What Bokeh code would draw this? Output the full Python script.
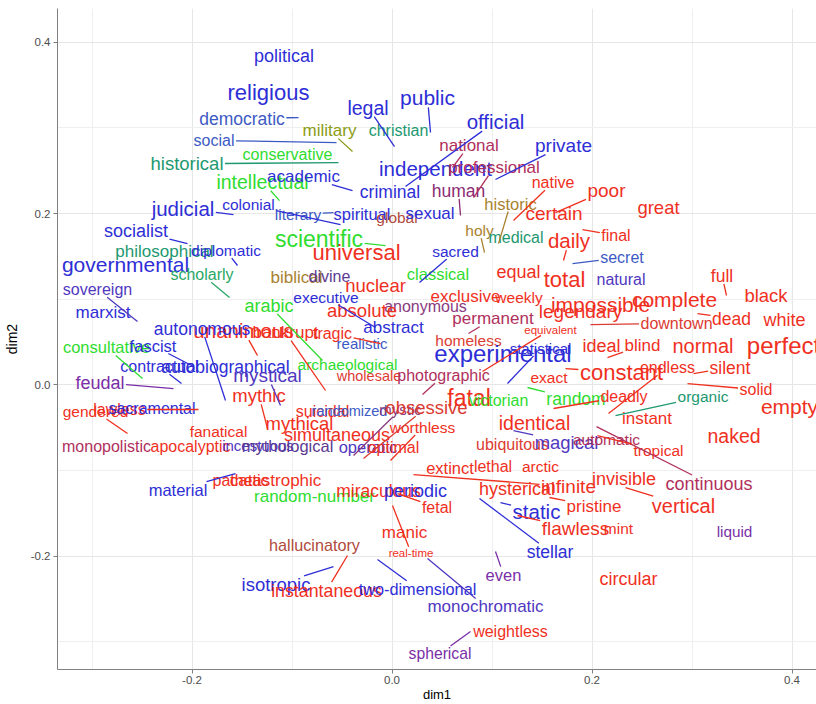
import math
from bokeh.plotting import figure
from bokeh.models import ColumnDataSource, Range1d, FixedTicker, NumeralTickFormatter
from bokeh.core.properties import value
from bokeh.embed import file_html
from bokeh.resources import INLINE

WORDS = ["political", "religious", "public", "legal", "democratic", "military", "christian", "social",
         "official", "conservative", "historical", "intellectual", "academic", "independent", "national",
         "professional", "private", "criminal", "human", "native", "poor", "great", "certain", "historic",
         "judicial", "colonial", "literary", "spiritual", "global", "sexual", "holy", "medical", "daily",
         "final", "secret", "natural", "total", "scientific", "universal", "socialist", "philosophical",
         "diplomatic", "governmental", "scholarly", "biblical", "divine", "sacred", "classical", "equal",
         "nuclear", "arabic", "executive", "exclusive", "weekly", "impossible", "legendary", "complete",
         "full", "black", "dead", "white", "downtown", "equivalent", "permanent", "anonymous", "absolute",
         "abstract", "tragic", "realistic", "homeless", "bankrupt", "unanimous", "autonomous", "sovereign",
         "marxist", "consultative", "fascist", "contractual", "autobiographical", "mystical", "feudal",
         "mythic", "gendered", "lawless", "sacramental", "fanatical", "monopolistic", "apocalyptic",
         "incestuous", "mythological", "mythical", "simultaneous", "suicidal", "randomized", "mystic",
         "obsessive", "worthless", "operatic", "optimal", "wholesale", "archaeological", "photographic",
         "experimental", "statistical", "fatal", "victorian", "random", "exact", "identical", "ubiquitous",
         "magical", "extinct", "lethal", "arctic", "hysterical", "infinite", "pristine", "flawless", "mint",
         "static", "stellar", "invisible", "continuous", "vertical", "tropical", "automatic", "instant",
         "organic", "deadly", "endless", "silent", "solid", "empty", "naked", "perfect", "normal", "blind",
         "ideal", "constant", "material", "pathetic", "catastrophic", "random-number", "miraculous",
         "periodic", "fetal", "manic", "real-time", "hallucinatory", "isotropic", "instantaneous",
         "two-dimensional", "monochromatic", "even", "weightless", "spherical", "circular", "liquid"]

LABEL_X = [-0.108, -0.1235, 0.0355, -0.024, -0.150, -0.0625, 0.0065, -0.178,
           0.1035, -0.1045, -0.205, -0.1295, -0.0885, 0.0435, 0.077,
           0.102, 0.1715, -0.002, 0.0665, 0.161, 0.2145, 0.2665, 0.162, 0.1185,
           -0.209, -0.1435, -0.094, -0.030, 0.005, 0.038, 0.0875, 0.124, 0.177,
           0.224, 0.230, 0.229, 0.1725, -0.073, -0.0355, -0.256, -0.2275,
           -0.166, -0.2665, -0.190, -0.0955, -0.0625, 0.0635, 0.046, 0.1265,
           -0.0165, -0.123, -0.066, 0.0735, 0.127, 0.2085, 0.1885, 0.2825,
           0.330, 0.374, 0.3395, 0.3925, 0.2845, 0.1585, 0.101, 0.0335, -0.030,
           0.0015, -0.0595, -0.030, 0.0765, -0.1065, -0.1485, -0.190, -0.2945,
           -0.289, -0.2855, -0.239, -0.2325, -0.1665, -0.1245, -0.292,
           -0.133, -0.2965, -0.2725, -0.240, -0.1735, -0.2855, -0.2015,
           -0.134, -0.1045, -0.0925, -0.055, -0.0695, -0.0425, 0.0085,
           0.0345, 0.0305, -0.024, 0.0015, -0.023, -0.0445, 0.0515,
           0.111, 0.1485, 0.077, 0.1065, 0.184, 0.157, 0.1425, 0.1205,
           0.1745, 0.058, 0.101, 0.1485, 0.125, 0.1765, 0.202, 0.1835, 0.2265,
           0.1445, 0.158, 0.232, 0.317, 0.2915, 0.2665, 0.2145, 0.255,
           0.311, 0.232, 0.2755, 0.338, 0.364, 0.3975, 0.342, 0.3915, 0.311, 0.2505,
           0.2095, 0.2295, -0.214, -0.1515, -0.1165, -0.0775, -0.0135,
           0.0235, 0.045, 0.0125, 0.019, -0.0775, -0.116, -0.0655,
           0.0255, 0.0935, 0.1115, 0.1185, 0.048, 0.2365, 0.3425]

LABEL_Y = [0.3845, 0.3413, 0.3355, 0.3238, 0.3110, 0.2970, 0.2970, 0.2853,
           0.3075, 0.2689, 0.2581, 0.2374, 0.2433, 0.2526, 0.2794,
           0.2538, 0.2794, 0.2257, 0.2269, 0.2363, 0.2269, 0.2071, 0.2001, 0.2117,
           0.2059, 0.2106, 0.1989, 0.2001, 0.1958, 0.2001, 0.1802, 0.1724, 0.1686,
           0.1744, 0.1487, 0.1230, 0.1230, 0.1709, 0.1545, 0.1802, 0.1557,
           0.1569, 0.1405, 0.1289, 0.1254, 0.1269, 0.1557, 0.1300, 0.1316,
           0.1160, 0.0927, 0.1020, 0.1032, 0.1020, 0.0938, 0.0857, 0.0997,
           0.1277, 0.1044, 0.0775, 0.0763, 0.0717, 0.0647, 0.0775, 0.0915, 0.0868,
           0.0670, 0.0600, 0.0483, 0.0518, 0.0612, 0.0635, 0.0658, 0.1114,
           0.0845, 0.0437, 0.0460, 0.0215, 0.0215, 0.0110, 0.0028,
           -0.0124, -0.0310, -0.0287, -0.0275, -0.0544, -0.0719, -0.0719,
           -0.0707, -0.0707, -0.0451, -0.0579, -0.0310, -0.0310, -0.0287,
           -0.0264, -0.0497, -0.0719, -0.0731, 0.0110, 0.0238, 0.0110,
           0.0367, 0.0425, -0.0147, -0.0182, -0.0170, 0.0086, -0.0439, -0.0696,
           -0.0672, -0.0964, -0.0952, -0.0952, -0.1209, -0.1186, -0.1419, -0.1676, -0.1676,
           -0.1478, -0.1945, -0.1093, -0.1151, -0.1408, -0.0766, -0.0637, -0.0392,
           -0.0135, -0.0135, 0.0203, 0.0203, -0.0054, -0.0252, -0.0591, 0.0460, 0.0460, 0.0460,
           0.0460, 0.0145, -0.1221, -0.1116, -0.1116, -0.1303, -0.1233,
           -0.1233, -0.1431, -0.1723, -0.1956, -0.1863, -0.2330, -0.2400,
           -0.2377, -0.2587, -0.2213, -0.2878, -0.3135, -0.2260, -0.1711]

POINT_X = [None, None, 0.0385, 0.0025, -0.0935, -0.0395, None, -0.0555,
           0.0135, None, -0.0535, -0.1125, -0.0395, None, 0.0605,
           0.0815, 0.1035, None, 0.0685, 0.1215, 0.1635, None, None, 0.1065,
           -0.1585, -0.0515, -0.0585, None, None, None, 0.0925, None, 0.1715,
           0.1905, 0.1805, None, None, -0.0065, None, -0.2045, None,
           -0.1545, None, -0.1625, None, None, 0.0275, None, None,
           None, -0.0695, -0.0165, None, None, None, None, None,
           0.3345, None, 0.3055, None, 0.1985, 0.0905, 0.0765, None, None,
           None, -0.0115, None, None, -0.0665, -0.1345, -0.1665, -0.2545,
           None, -0.2495, -0.1985, -0.2105, None, -0.1115, -0.2185,
           -0.1245, -0.2645, -0.1935, None, None, None, None,
           None, None, None, None, None, None, -0.0385,
           -0.0285, -0.0015, None, None, None, None, 0.0305,
           None, 0.1155, None, None, 0.1355, None, None, None,
           0.1215, None, None, None, None, 0.0215, 0.1575, 0.1255, None,
           0.1085, 0.0875, None, 0.2045, 0.2335, 0.2055, None, None,
           0.2235, 0.1615, 0.2165, 0.3015, 0.2955, None, None, None, None, 0.2155,
           None, 0.1735, -0.1565, None, None, None, None,
           None, 0.0055, None, 0.0005, None, -0.0585, -0.0445,
           -0.0145, 0.0355, 0.1035, None, 0.0785, None, None]

POINT_Y = [None, None, 0.2946, 0.2783, 0.3121, 0.2724, None, 0.2829,
           0.2316, None, 0.2596, 0.2152, 0.2269, None, 0.2538,
           0.2187, 0.2398, None, 0.1977, 0.1919, 0.2012, None, None, 0.1650,
           0.1989, 0.1872, 0.2012, None, None, None, 0.1545, None, 0.1452,
           0.1814, 0.1417, None, None, 0.1627, None, 0.1650, None,
           0.1394, None, 0.1020, None, None, 0.1195, None, None,
           None, 0.0285, 0.0670, None, None, None, None, None,
           0.1044, None, 0.0833, None, 0.0705, 0.0156, 0.0600, None, None,
           None, 0.0483, None, None, -0.0065, 0.0343, -0.0182, 0.0740,
           None, 0.0075, 0.0215, 0.0016, None, -0.0240, -0.0042,
           -0.0509, -0.0567, -0.0287, None, None, None, None,
           None, None, None, None, None, None, -0.0824,
           -0.0859, -0.0882, None, None, None, None, -0.0112,
           None, 0.0016, None, None, -0.0030, None, None, None,
           -0.0532, None, None, None, None, -0.1046, -0.1314, -0.1524, None,
           -0.1373, -0.1326, None, -0.0486, -0.1198, -0.0591, None, None,
           -0.0357, -0.0275, -0.0334, 0.0133, 0.0016, None, None, None, None, 0.0320,
           None, 0.0191, -0.1034, None, None, None, None,
           None, -0.1268, None, -0.1408, None, -0.2120, -0.1991,
           -0.2038, -0.2026, -0.1945, None, -0.2878, None, None]

SIZES = [18, 22, 21, 19.5, 17.5, 17, 16, 16,
         20.5, 16, 18.5, 19.5, 17, 20.5, 17,
         17, 19, 17.5, 17.5, 16, 19, 18.5, 19, 16.5,
         20.5, 15.5, 15.5, 16.5, 15.5, 17, 15.5, 16, 20.5,
         16, 16, 16, 22, 23, 22, 18, 17,
         15.5, 21, 16, 17, 16, 15.5, 16.5, 18,
         18.5, 18, 15.5, 17, 15.5, 21, 19, 21,
         17.5, 18.5, 17.5, 18, 16, 11.5, 17, 16, 18.5,
         17, 16, 15, 15.5, 17, 20.5, 17.5, 16,
         17, 16.5, 16.5, 16, 17.5, 19, 18,
         18.5, 15.5, 16, 16, 15.5, 16, 16,
         15, 16.5, 18.5, 18, 16, 14.5, 15,
         18.5, 15.5, 16.5, 16, 14.5, 15.5, 16,
         24, 15, 23, 16, 17.5, 15.5, 19.5, 16,
         18.5, 16.5, 16, 15.5, 18, 19, 17, 19, 15.5,
         20.5, 17.5, 18, 18, 20, 15.5, 15.5, 17,
         15.5, 16, 16, 17.5, 16, 21, 19.5, 24, 20, 17,
         18, 22, 16.5, 16, 17, 17, 17.5,
         18, 16, 17, 11.5, 16.2, 18.5, 17.8,
         16.3, 17, 16.5, 16, 15.7, 18, 15.3]

PALETTE = {
    "blue": "#2e2ed6", "steel": "#3d5ac4", "indigo": "#5038c0", "purple": "#7a2ea8",
    "dpurple": "#5c3a92", "plum": "#8a3a7e", "magenta": "#8c2c74", "crimson": "#b0305c",
    "red": "#f0301e", "red2": "#dc3c32", "brown": "#b04a3c", "green": "#30dc30",
    "teal": "#1e9870", "tgreen": "#2aa866", "olive": "#8c9c14", "gold": "#aa8230",
}

COLORS = ["blue", "blue", "blue", "blue", "steel", "olive", "teal", "steel",
          "blue", "green", "teal", "green", "blue", "blue", "crimson",
          "crimson", "blue", "blue", "magenta", "red", "red", "red", "red", "gold",
          "blue", "blue", "steel", "blue", "brown", "blue", "gold", "teal", "red",
          "red", "steel", "indigo", "red", "green", "red", "blue", "teal",
          "blue", "blue", "tgreen", "gold", "dpurple", "blue", "green", "red",
          "red", "green", "blue", "red", "red", "red", "red", "red",
          "red", "red", "red", "red", "red2", "red", "crimson", "plum", "red",
          "blue", "red", "steel", "red2", "red", "red", "blue", "indigo",
          "blue", "green", "blue", "blue", "blue", "indigo", "purple",
          "red", "red", "red", "blue", "red", "crimson", "red",
          "indigo", "dpurple", "red", "red", "red", "steel", "plum",
          "red2", "red", "indigo", "red", "red2", "green", "crimson",
          "blue", "blue", "red", "green", "green", "red", "red", "red2",
          "indigo", "red", "red", "red", "red", "red", "red", "red", "red",
          "blue", "blue", "red", "crimson", "red", "red", "crimson", "red",
          "teal", "red", "red", "red", "red", "red", "red", "red", "red", "red",
          "red", "red", "blue", "red", "red", "green", "red",
          "blue", "red", "red", "red", "brown", "blue", "red",
          "blue", "indigo", "purple", "red", "purple", "red", "purple"]

W, H = 816, 704
BL, BT, BB = 57, 8, 35
X0, X1 = -0.3345, 0.4245
Y1 = 0.4394
Y0 = Y1 - (H - BT - BB) / 856.7
FONT = "Liberation Sans"

CW = {"a": .556, "b": .556, "c": .5, "d": .556, "e": .556, "f": .278, "g": .556, "h": .556,
      "i": .222, "j": .222, "k": .5, "l": .222, "m": .833, "n": .556, "o": .556, "p": .556,
      "q": .556, "r": .333, "s": .5, "t": .278, "u": .556, "v": .5, "w": .722, "x": .5,
      "y": .5, "z": .5, "-": .333}

xs = (W - BL) / (X1 - X0)
ys = (H - BT - BB) / (Y1 - Y0)

seg = dict(x0=[], y0=[], x1=[], y1=[], c=[])
for w, lx, ly, px_, py_, s, c in zip(WORDS, LABEL_X, LABEL_Y, POINT_X, POINT_Y, SIZES, COLORS):
    if px_ is None:
        continue
    hw = sum(CW.get(ch, .556) for ch in w) * s / 2 + 1.5
    hh = s * 0.42 + 1
    dx = (px_ - lx) * xs
    dy = (py_ - ly) * ys
    if abs(dx) <= hw and abs(dy) <= hh:
        continue
    t = min(hw / abs(dx) if dx else 1e9, hh / abs(dy) if dy else 1e9)
    ex = lx + dx * t / xs
    ey = ly + dy * t / ys
    seg["x0"].append(ex); seg["y0"].append(ey)
    seg["x1"].append(px_); seg["y1"].append(py_)
    seg["c"].append(PALETTE[c])

p = figure(width=W, height=H, output_backend="svg", toolbar_location=None,
           x_range=Range1d(X0, X1), y_range=Range1d(Y0, Y1),
           min_border_left=BL, min_border_right=0, min_border_top=BT, min_border_bottom=BB)
p.outline_line_color = None
p.background_fill_color = "white"
p.border_fill_color = "white"

xt = FixedTicker(ticks=[-0.2, 0.0, 0.2, 0.4], minor_ticks=[-0.3, -0.1, 0.1, 0.3])
yt = FixedTicker(ticks=[-0.2, 0.0, 0.2, 0.4], minor_ticks=[-0.3, -0.1, 0.1, 0.3])
p.xaxis.ticker = xt
p.yaxis.ticker = yt
p.xgrid.ticker = xt
p.ygrid.ticker = yt
for g in (p.xgrid, p.ygrid):
    g.grid_line_color = "#e6e6e6"
    g.grid_line_width = 1
    g.minor_grid_line_color = "#efefef"
    g.minor_grid_line_width = 1

for ax in (p.xaxis, p.yaxis):
    ax.formatter = NumeralTickFormatter(format="0.0")
    ax.axis_line_color = "#808080"
    ax.major_tick_line_color = "#808080"
    ax.major_tick_out = 4
    ax.major_tick_in = 0
    ax.minor_tick_line_color = None
    ax.major_label_text_font = FONT
    ax.major_label_text_font_size = "11.5px"
    ax.major_label_text_color = "#4d4d4d"
    ax.major_label_standoff = 3
    ax.axis_label_text_font = FONT
    ax.axis_label_text_font_size = "14px"
    ax.axis_label_text_font_style = "normal"
    ax.axis_label_text_color = "black"
p.xaxis.axis_label = "dim1"
p.yaxis.axis_label = "dim2"
p.xaxis.major_label_standoff = 2
p.xaxis.axis_label_text_font_size = "13px"
p.xaxis.axis_label_standoff = 0
p.yaxis.axis_label_standoff = 8

src = ColumnDataSource(dict(x=LABEL_X, y=LABEL_Y, t=WORDS,
                            fs=[f"{s}px" for s in SIZES],
                            c=[PALETTE[c] for c in COLORS]))
p.text(x="x", y="y", text="t", source=src, text_font_size="fs", text_color="c",
       text_align="center", text_baseline="middle", text_font=value(FONT))
p.segment(x0="x0", y0="y0", x1="x1", y1="y1", source=ColumnDataSource(seg),
          line_color="c", line_width=1.3)

open("out.html", "w").write(file_html(p, INLINE))
